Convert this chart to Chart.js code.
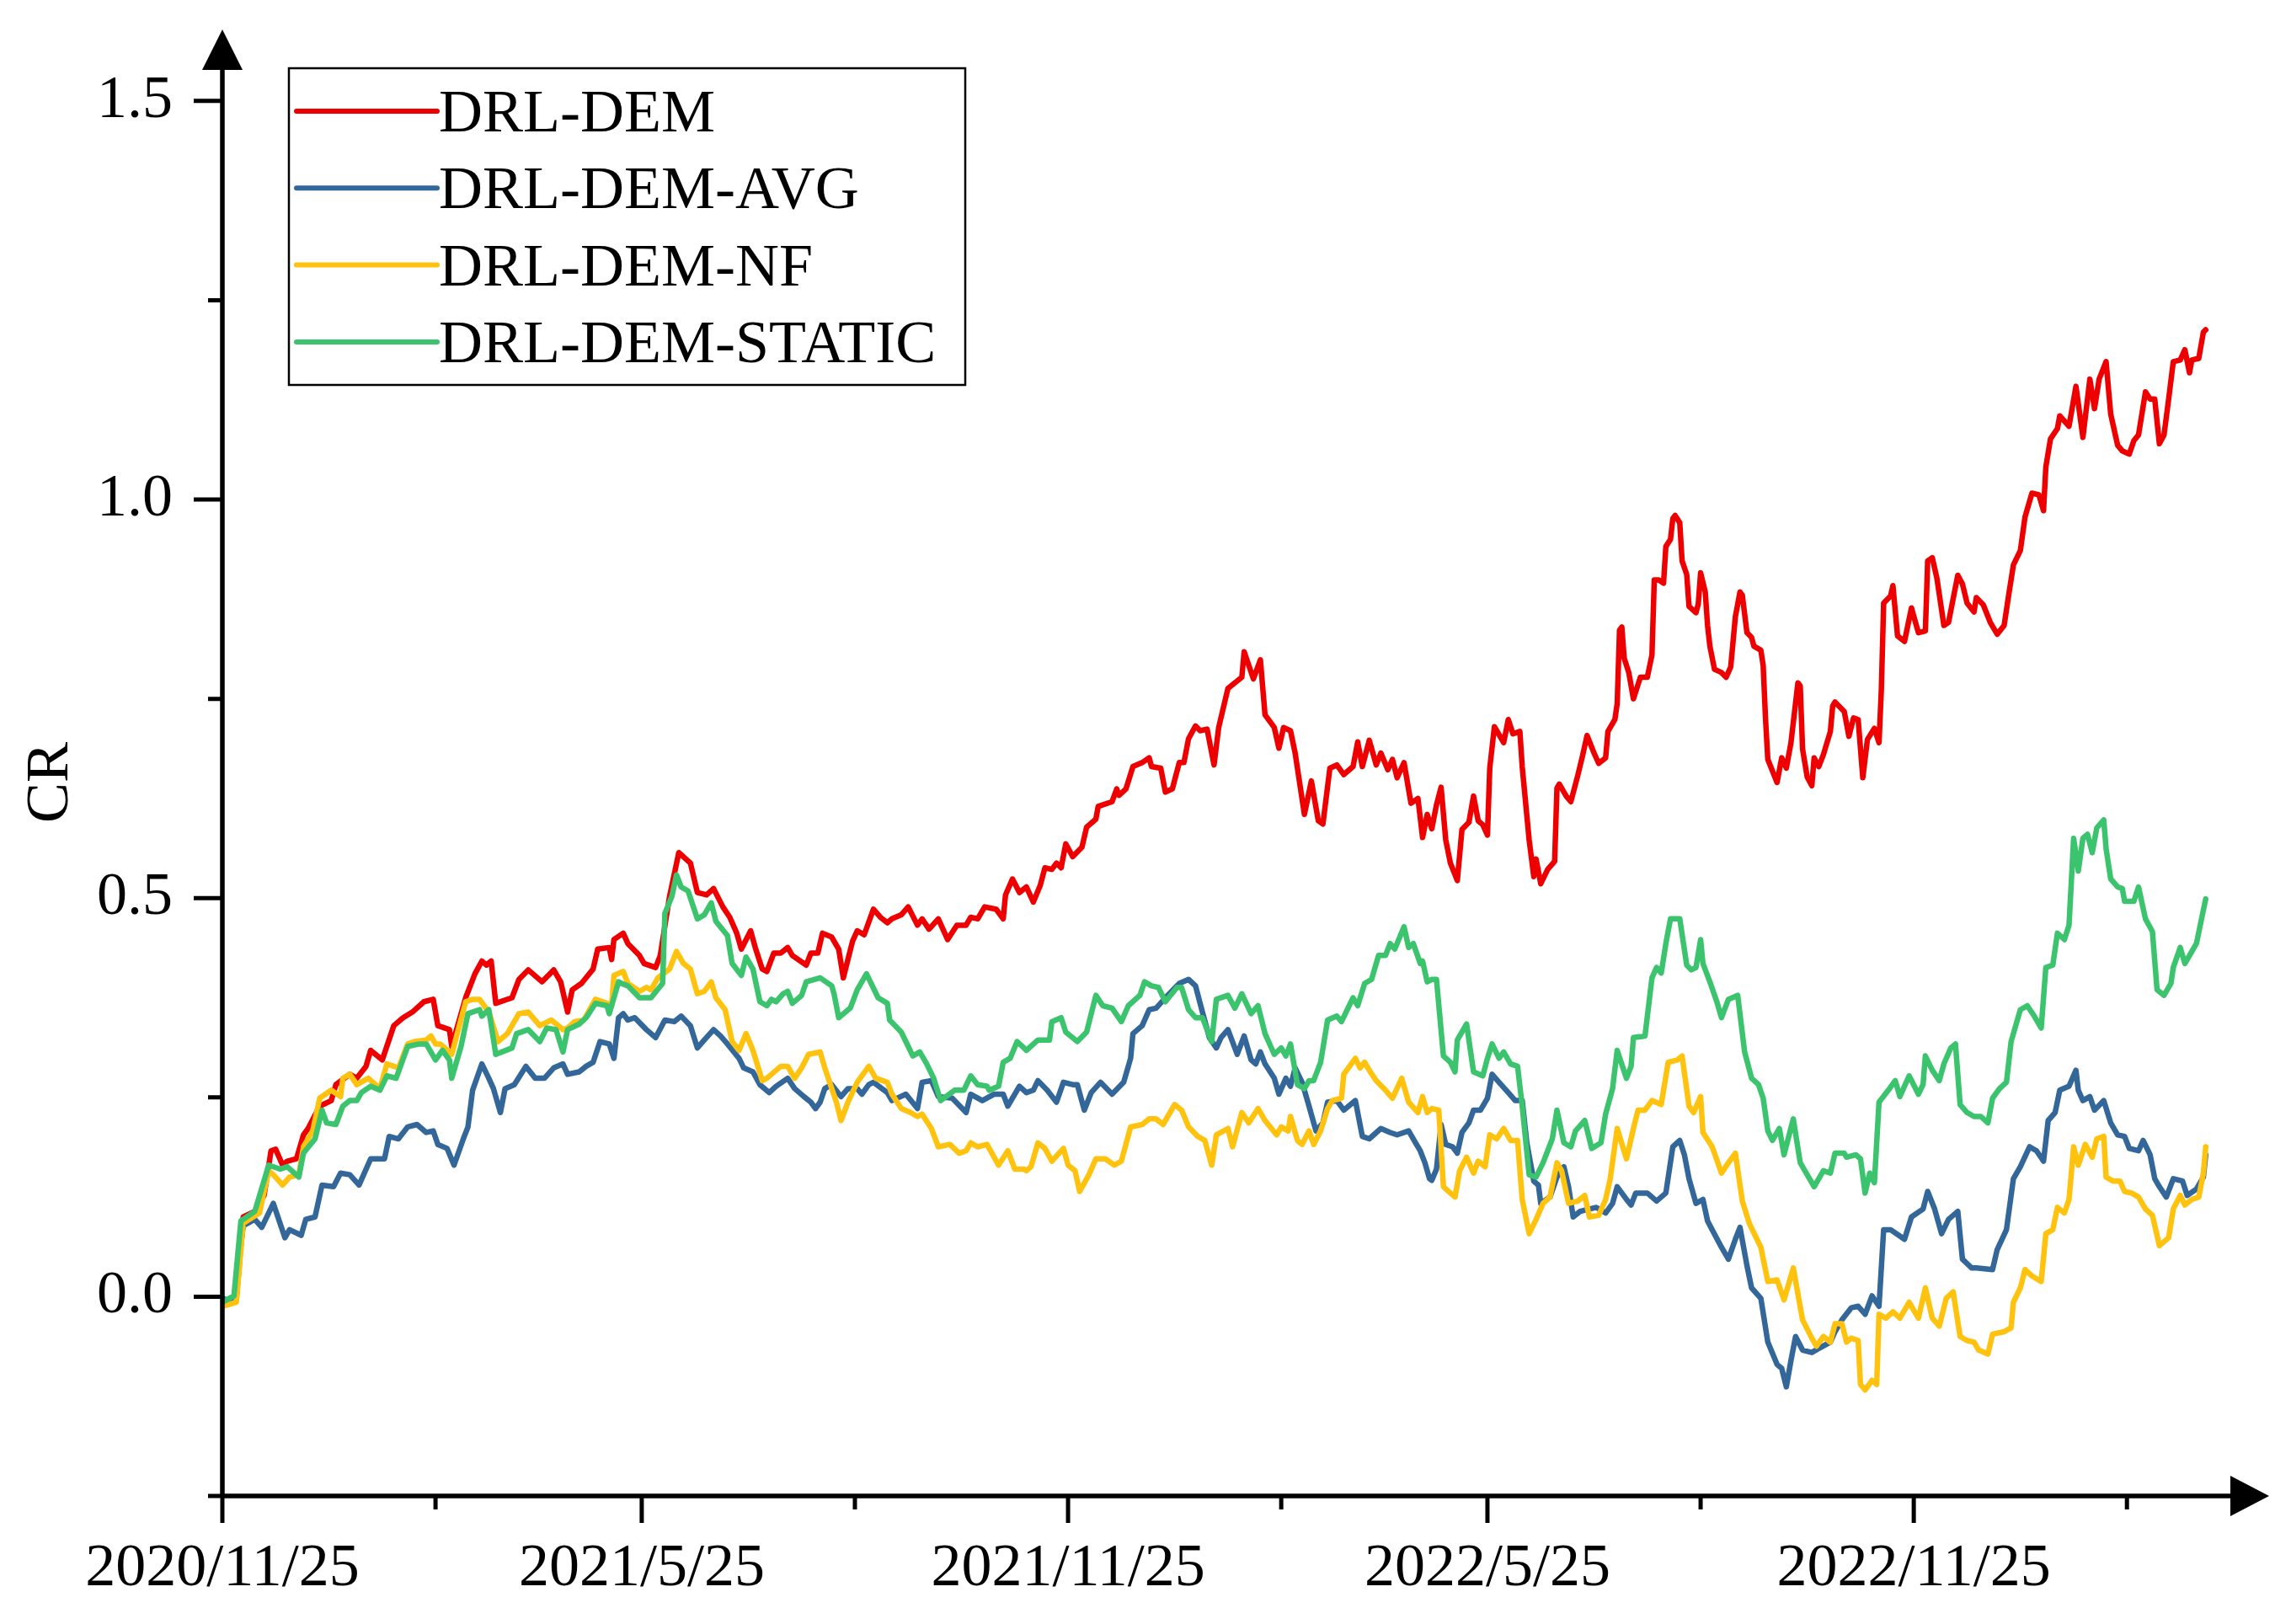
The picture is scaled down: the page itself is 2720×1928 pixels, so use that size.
<!DOCTYPE html>
<html>
<head>
<meta charset="utf-8">
<script src="https://cdn.jsdelivr.net/npm/chart.js@4.4.1/dist/chart.umd.min.js"></script>
<style>
  html, body { margin: 0; padding: 0; background: #fff; overflow: hidden; }
  canvas { display: block; }
</style>
</head>
<body>
<canvas id="chart" width="2720" height="1928"></canvas>
<script>
// x = calendar days since 2020/11/25, y = cumulative return (CR)
const xTickDays = [0, 92, 181, 273, 365, 457, 546, 638, 730, 822];
const xTickLabels = ['2020/11/25', '', '2021/5/25', '', '2021/11/25', '', '2022/5/25', '', '2022/11/25', ''];
const yTickValues = [-0.25, 0, 0.25, 0.5, 0.75, 1.0, 1.25, 1.5];
const yTickLabels = ['', '0.0', '', '0.5', '', '1.0', '', '1.5'];

const seriesNames = ['DRL-DEM', 'DRL-DEM-AVG', 'DRL-DEM-NF', 'DRL-DEM-STATIC'];
const seriesColors = ['#EE0000', '#336699', '#FFC20E', '#3CC36E'];

const redDays = [0,6,9,14,18,21,23,26,28,32,35,37,42,47,49,55,58,62,64,69,74,78,82,87,91,93,98,99,105,109,112,114,116,118,125,128,132,138,143,146,149,151,155,160,162,167,168,169,173,
  175,180,182,187,189,193,197,202,205,209,212,216,219,222,224,228,230,233,235,238,241,244,246,252,254,257,259,263,266,268,272,274,277,281,284,287,289,293,296,300,302,305,309,313,317,321,323,326,329,334,337,338,341,344,347,
  350,353,355,358,360,362,364,367,371,373,377,378,384,386,387,390,393,397,400,401,405,407,410,413,415,417,420,422,425,428,430,434,440,441,445,448,450,454,456,458,461,463,467,470,473,475,478,481,484,488,490,492,495,498,500,503,505,507,510,513,516,518,520,522,
  524,526,528,530,533,535,538,540,542,544,546,547,549,553,555,557,560,561,564,566,567,569,572,575,576,577,580,582,585,587,589,592,594,597,598,601,602,603,604,605,607,609,612,615,617,618,620,622,623,625,626,627,629,630,632,633,636,637,638,640,641,642,644,647,649,651,653,655,656,658,660,661,664,665,666,667,671,673,675,677,680,681,682,684,686,687,689,691,694,695,696,
  700,702,704,706,708,710,713,715,716,717,720,721,723,726,729,732,735,736,738,740,743,745,749,751,753,756,757,760,763,766,769,771,773,776,778,781,784,786,787,789,792,793,797,800,803,806,808,810,813,815,818,820,823,825,827,830,832,834,836,838,840,842,845,847,849,850,853,855,856];
const redCR = [-0.004,-0.004,0.100,0.107,0.127,0.183,0.185,0.165,0.170,0.173,0.203,0.211,0.239,0.246,0.266,0.279,0.274,0.289,0.309,0.297,0.340,0.350,0.357,0.370,0.373,0.340,0.335,0.314,0.375,0.405,0.421,0.416,0.421,0.368,0.375,0.398,0.410,0.395,0.410,0.395,0.357,0.385,0.393,0.411,0.436,0.438,0.423,0.448,0.456,
  0.443,0.428,0.418,0.413,0.428,0.502,0.557,0.544,0.507,0.504,0.512,0.489,0.476,0.456,0.436,0.459,0.438,0.411,0.408,0.431,0.431,0.438,0.428,0.416,0.431,0.431,0.456,0.451,0.436,0.400,0.446,0.459,0.454,0.486,0.476,0.469,0.474,0.479,0.489,0.466,0.474,0.461,0.474,0.448,0.466,0.466,0.476,0.474,0.489,0.486,0.474,0.504,0.524,0.507,0.514,
  0.495,0.516,0.538,0.536,0.544,0.538,0.568,0.552,0.564,0.589,0.599,0.615,0.621,0.637,0.629,0.637,0.665,0.670,0.676,0.665,0.663,0.633,0.637,0.670,0.670,0.700,0.716,0.710,0.712,0.667,0.714,0.763,0.777,0.809,0.775,0.799,0.730,0.714,0.688,0.714,0.710,0.682,0.605,0.647,0.597,0.593,0.663,0.667,0.655,0.665,0.696,0.665,0.698,0.667,0.682,0.661,0.674,0.651,0.670,0.619,0.625,0.576,0.605,0.587,
  0.617,0.639,0.573,0.544,0.522,0.586,0.595,0.628,0.597,0.592,0.579,0.663,0.715,0.695,0.724,0.706,0.709,0.665,0.573,0.527,0.549,0.518,0.536,0.546,0.638,0.643,0.628,0.621,0.654,0.678,0.704,0.682,0.669,0.676,0.709,0.724,0.744,0.836,0.840,0.801,0.783,0.750,0.777,0.777,0.805,0.899,0.899,0.895,0.941,0.950,0.976,0.980,0.971,0.923,0.906,0.866,0.858,0.869,0.908,0.884,0.842,0.816,0.787,0.783,0.777,0.790,0.853,0.884,0.880,0.833,0.827,0.816,0.811,0.792,0.726,0.674,0.645,0.676,0.663,0.695,0.770,0.766,0.687,0.652,0.641,0.676,0.665,0.680,0.709,0.741,0.746,
  0.734,0.703,0.726,0.724,0.651,0.699,0.713,0.695,0.761,0.870,0.879,0.892,0.829,0.822,0.864,0.833,0.835,0.923,0.927,0.901,0.842,0.846,0.905,0.894,0.870,0.859,0.877,0.868,0.846,0.831,0.842,0.881,0.918,0.936,0.978,1.008,1.006,0.986,1.041,1.076,1.089,1.105,1.092,1.142,1.078,1.151,1.114,1.151,1.173,1.107,1.068,1.061,1.057,1.074,1.081,1.135,1.126,1.126,1.070,1.081,1.126,1.173,1.175,1.188,1.159,1.175,1.177,1.210,1.213];

const blueDays = [0,5,9,14,17,22,27,29,34,36,40,43,48,51,55,59,64,70,72,76,80,84,88,91,93,97,100,104,106,108,112,115,117,120,122,126,131,135,139,143,147,149,154,157,160,163,167,169,171,173,
  175,178,183,187,191,195,198,202,205,208,212,215,218,223,225,229,232,236,239,244,247,251,254,256,258,260,263,267,270,274,276,279,281,287,289,295,300,302,306,309,315,321,323,328,333,337,339,344,347,
  350,352,356,360,363,367,369,372,375,379,384,389,392,393,397,400,403,408,413,417,420,423,426,429,431,434,438,441,444,446,448,450,454,456,459,461,463,466,469,472,475,477,481,484,489,492,495,500,504,507,512,515,517,519,521,522,
  524,526,528,531,533,535,538,540,543,546,548,551,555,558,561,563,566,568,569,573,576,579,581,583,586,590,593,597,600,602,606,608,610,615,619,623,626,629,631,633,636,639,641,643,647,650,653,655,658,660,664,667,671,673,675,677,679,682,686,689,694,696,
  699,703,706,709,712,715,717,720,726,729,734,736,739,742,745,749,751,755,757,764,766,770,773,776,780,783,786,788,791,793,797,800,801,803,806,808,812,815,818,821,823,827,829,832,834,836,839,842,846,848,852,855,856];
const blueCR = [-0.002,-0.007,0.089,0.097,0.087,0.117,0.074,0.084,0.077,0.097,0.100,0.140,0.138,0.155,0.153,0.140,0.173,0.173,0.201,0.198,0.213,0.216,0.206,0.208,0.191,0.186,0.165,0.198,0.213,0.259,0.292,0.274,0.261,0.231,0.261,0.266,0.289,0.274,0.274,0.287,0.292,0.279,0.282,0.289,0.294,0.320,0.317,0.299,0.350,0.355,
  0.347,0.350,0.335,0.325,0.347,0.345,0.352,0.340,0.312,0.322,0.335,0.327,0.317,0.299,0.287,0.282,0.266,0.256,0.264,0.274,0.261,0.251,0.244,0.236,0.244,0.261,0.266,0.251,0.261,0.261,0.254,0.266,0.269,0.256,0.246,0.254,0.236,0.269,0.271,0.251,0.249,0.231,0.254,0.246,0.254,0.254,0.239,0.264,0.256,
  0.259,0.271,0.259,0.244,0.269,0.266,0.266,0.234,0.256,0.269,0.254,0.269,0.299,0.330,0.340,0.360,0.362,0.378,0.393,0.398,0.390,0.357,0.325,0.312,0.325,0.335,0.304,0.327,0.297,0.292,0.307,0.292,0.274,0.254,0.274,0.264,0.287,0.269,0.239,0.208,0.218,0.244,0.246,0.234,0.246,0.201,0.198,0.211,0.206,0.203,0.208,0.193,0.183,0.168,0.148,0.146,
  0.160,0.216,0.191,0.188,0.180,0.206,0.218,0.234,0.234,0.249,0.279,0.269,0.256,0.246,0.246,0.193,0.145,0.140,0.117,0.125,0.150,0.163,0.138,0.100,0.107,0.110,0.112,0.105,0.117,0.138,0.122,0.115,0.130,0.130,0.120,0.130,0.188,0.196,0.178,0.148,0.117,0.122,0.095,0.084,0.062,0.047,0.072,0.087,0.039,0.011,-0.002,-0.057,-0.085,-0.090,-0.113,-0.080,-0.050,-0.067,-0.070,-0.065,-0.057,-0.044,
  -0.029,-0.014,-0.012,-0.022,0.001,-0.012,0.084,0.084,0.072,0.100,0.110,0.132,0.110,0.079,0.097,0.107,0.047,0.036,0.036,0.034,0.059,0.084,0.148,0.163,0.188,0.183,0.170,0.221,0.231,0.259,0.264,0.284,0.259,0.246,0.251,0.234,0.246,0.218,0.203,0.201,0.186,0.183,0.196,0.178,0.148,0.138,0.125,0.148,0.145,0.127,0.135,0.150,0.178];

const yellowDays = [0,6,9,16,20,22,26,29,33,35,39,42,47,51,52,55,58,63,68,71,76,80,83,88,90,92,94,98,99,105,108,111,115,119,123,128,132,137,142,147,149,152,156,161,166,168,169,173,
  175,180,183,185,188,193,196,199,202,205,208,211,213,217,220,223,226,229,233,235,239,241,244,247,250,253,258,260,265,267,270,274,279,282,287,289,293,297,300,302,306,309,314,318,321,323,326,330,335,339,342,346,347,
  349,352,355,358,363,365,368,370,374,377,381,385,388,392,397,400,403,406,411,414,417,421,424,427,429,434,436,440,443,447,450,455,457,460,461,464,466,469,471,474,477,479,483,484,489,491,493,495,498,502,505,509,512,516,518,520,522,
  525,527,530,532,534,537,540,542,545,547,550,553,556,559,561,564,567,570,573,576,578,581,585,588,590,594,597,599,602,606,609,611,614,617,621,624,628,630,633,635,638,639,643,647,650,653,656,659,664,667,671,674,678,682,686,688,691,694,696,
  699,701,703,706,707,709,712,714,715,718,721,724,728,732,735,738,741,744,747,750,753,756,758,762,764,769,772,773,776,778,781,785,787,790,792,795,797,799,801,804,807,809,812,813,816,819,821,824,827,830,833,836,840,842,845,847,850,853,855,856];
const yellowCR = [-0.012,-0.007,0.092,0.105,0.158,0.153,0.140,0.150,0.153,0.188,0.208,0.249,0.259,0.251,0.274,0.279,0.266,0.274,0.261,0.292,0.287,0.317,0.320,0.322,0.327,0.317,0.317,0.307,0.304,0.370,0.373,0.373,0.357,0.320,0.330,0.355,0.357,0.340,0.347,0.335,0.337,0.345,0.347,0.373,0.368,0.365,0.403,0.408,
  0.393,0.383,0.388,0.385,0.400,0.411,0.433,0.418,0.411,0.380,0.383,0.395,0.375,0.360,0.320,0.309,0.330,0.309,0.271,0.274,0.284,0.289,0.289,0.274,0.287,0.304,0.307,0.287,0.244,0.221,0.244,0.269,0.289,0.274,0.269,0.254,0.236,0.231,0.226,0.229,0.211,0.188,0.191,0.180,0.183,0.193,0.188,0.191,0.165,0.183,0.160,0.160,0.158,
  0.163,0.193,0.186,0.170,0.186,0.165,0.158,0.132,0.153,0.173,0.173,0.165,0.170,0.213,0.216,0.223,0.223,0.216,0.241,0.234,0.213,0.201,0.196,0.165,0.203,0.211,0.188,0.231,0.218,0.236,0.221,0.203,0.213,0.208,0.226,0.196,0.191,0.208,0.191,0.208,0.236,0.246,0.249,0.279,0.299,0.287,0.294,0.284,0.271,0.259,0.249,0.274,0.244,0.231,0.251,0.231,0.236,
  0.234,0.138,0.130,0.125,0.158,0.175,0.155,0.170,0.163,0.203,0.198,0.211,0.196,0.196,0.122,0.079,0.097,0.117,0.125,0.168,0.158,0.117,0.120,0.127,0.100,0.102,0.122,0.148,0.211,0.173,0.211,0.234,0.234,0.246,0.241,0.294,0.297,0.302,0.239,0.231,0.251,0.206,0.188,0.155,0.168,0.180,0.120,0.092,0.062,0.019,0.021,-0.004,0.036,-0.029,-0.052,-0.062,-0.050,-0.057,-0.034,
  -0.034,-0.057,-0.052,-0.055,-0.110,-0.117,-0.105,-0.110,-0.022,-0.027,-0.019,-0.027,-0.007,-0.027,0.011,-0.027,-0.037,-0.002,0.006,-0.050,-0.055,-0.057,-0.067,-0.072,-0.047,-0.044,-0.039,-0.007,0.011,0.034,0.026,0.019,0.079,0.084,0.112,0.105,0.122,0.188,0.165,0.191,0.175,0.198,0.201,0.150,0.145,0.145,0.132,0.130,0.125,0.110,0.102,0.064,0.074,0.110,0.127,0.115,0.122,0.125,0.155,0.188];

const greenDays = [0,5,8,14,20,25,28,33,35,40,43,45,49,52,55,58,60,64,68,71,75,80,85,88,92,95,98,99,103,106,111,112,115,118,125,127,132,137,140,144,147,149,154,157,161,166,167,171,173,
  175,180,185,190,191,194,196,198,201,205,208,211,213,218,220,224,226,229,232,235,237,239,242,244,246,250,252,258,263,264,266,271,274,278,283,287,288,293,296,298,301,304,307,310,316,320,323,326,330,331,335,337,340,343,346,347,
  352,357,358,362,364,369,373,377,380,384,388,391,396,398,401,404,407,412,414,417,420,423,427,429,434,437,440,444,447,450,454,457,459,461,464,467,469,471,474,477,481,483,488,490,493,496,499,502,504,506,510,512,514,517,518,520,522,
  524,527,530,532,533,537,540,544,546,548,551,553,556,559,561,564,567,570,574,576,579,582,584,588,591,595,597,600,602,606,608,609,614,617,619,621,623,625,629,632,634,636,638,639,642,645,647,650,654,657,660,663,665,667,669,672,674,678,681,683,687,691,694,696,
  700,701,705,707,709,711,713,715,719,722,724,728,732,734,735,738,741,743,746,748,750,753,756,759,762,764,767,770,772,776,779,782,785,787,790,792,795,797,799,801,803,805,807,809,812,813,815,818,820,821,825,827,830,833,835,838,841,842,845,847,849,852,854,856];
const greenCR = [-0.007,0.001,0.095,0.107,0.165,0.160,0.163,0.150,0.180,0.198,0.234,0.218,0.216,0.239,0.246,0.246,0.256,0.264,0.259,0.277,0.274,0.314,0.317,0.317,0.297,0.309,0.297,0.274,0.314,0.355,0.360,0.352,0.360,0.304,0.312,0.330,0.335,0.320,0.337,0.335,0.307,0.335,0.342,0.350,0.368,0.365,0.355,0.395,0.392,
  0.390,0.375,0.375,0.393,0.481,0.502,0.529,0.514,0.509,0.474,0.479,0.494,0.471,0.453,0.418,0.403,0.426,0.411,0.370,0.365,0.373,0.370,0.380,0.383,0.368,0.378,0.395,0.400,0.390,0.380,0.350,0.362,0.385,0.405,0.375,0.368,0.347,0.332,0.314,0.302,0.307,0.292,0.274,0.246,0.259,0.259,0.277,0.266,0.264,0.259,0.264,0.294,0.299,0.320,0.312,0.309,
  0.322,0.322,0.345,0.350,0.332,0.320,0.332,0.378,0.365,0.362,0.345,0.365,0.378,0.395,0.390,0.388,0.370,0.388,0.388,0.360,0.350,0.350,0.320,0.373,0.378,0.362,0.380,0.355,0.365,0.330,0.304,0.312,0.302,0.317,0.266,0.261,0.271,0.271,0.294,0.347,0.352,0.345,0.375,0.365,0.393,0.398,0.428,0.428,0.443,0.436,0.464,0.438,0.443,0.418,0.421,0.395,0.398,
  0.398,0.302,0.294,0.282,0.322,0.342,0.282,0.277,0.299,0.317,0.299,0.307,0.292,0.289,0.239,0.153,0.150,0.168,0.198,0.234,0.193,0.188,0.208,0.221,0.186,0.193,0.229,0.261,0.309,0.274,0.289,0.325,0.327,0.400,0.413,0.406,0.443,0.474,0.474,0.416,0.410,0.413,0.448,0.418,0.395,0.370,0.350,0.373,0.378,0.307,0.274,0.266,0.249,0.208,0.196,0.211,0.178,0.223,0.168,0.158,0.138,0.158,0.155,0.180,
  0.180,0.175,0.178,0.173,0.130,0.155,0.143,0.244,0.259,0.271,0.251,0.277,0.254,0.266,0.302,0.284,0.271,0.292,0.312,0.317,0.241,0.231,0.226,0.226,0.218,0.249,0.261,0.269,0.320,0.360,0.365,0.352,0.337,0.413,0.416,0.456,0.448,0.466,0.575,0.534,0.575,0.580,0.557,0.588,0.598,0.562,0.524,0.514,0.512,0.496,0.496,0.514,0.474,0.458,0.385,0.378,0.393,0.413,0.438,0.418,0.428,0.443,0.471,0.499];

const FONT = "'Liberation Serif', 'Times New Roman', serif";
const toPoints = (days, cr) => days.map((d, i) => ({ x: d, y: cr[i] }));

const whiteBg = {
  id: 'whiteBg',
  beforeDraw(c) { const ctx = c.ctx; ctx.save(); ctx.fillStyle = '#fff'; ctx.fillRect(0, 0, c.width, c.height); ctx.restore(); }
};

// axis lines with arrow heads, long major / short minor ticks
const axesWithArrows = {
  id: 'axesWithArrows',
  afterDatasetsDraw(chart) {
    const { ctx, chartArea: a, scales: { x, y } } = chart;
    ctx.save();
    ctx.strokeStyle = '#000'; ctx.fillStyle = '#000';
    ctx.lineWidth = 5.5;
    ctx.beginPath();
    ctx.moveTo(a.left, a.bottom); ctx.lineTo(a.left, a.top);
    ctx.moveTo(a.left, a.bottom); ctx.lineTo(a.right, a.bottom);
    ctx.stroke();
    ctx.lineWidth = 5;
    ctx.beginPath();
    x.ticks.forEach((t, i) => {
      const px = x.getPixelForValue(t.value);
      ctx.moveTo(px, a.bottom); ctx.lineTo(px, a.bottom + (xTickLabels[i] ? 32 : 16));
    });
    y.ticks.forEach((t, i) => {
      const py = y.getPixelForValue(t.value);
      ctx.moveTo(a.left, py); ctx.lineTo(a.left - (yTickLabels[i] ? 34 : 17), py);
    });
    ctx.stroke();
    ctx.beginPath();
    ctx.moveTo(a.left, a.top - 47); ctx.lineTo(a.left - 24, a.top + 1); ctx.lineTo(a.left + 24, a.top + 1); ctx.closePath();
    ctx.moveTo(a.right + 45, a.bottom); ctx.lineTo(a.right - 1, a.bottom - 24); ctx.lineTo(a.right - 1, a.bottom + 24); ctx.closePath();
    ctx.fill();
    ctx.restore();
  }
};

const boxLegend = {
  id: 'boxLegend',
  afterDraw(chart) {
    const ctx = chart.ctx;
    ctx.save();
    ctx.strokeStyle = '#000'; ctx.lineWidth = 2.5;
    ctx.strokeRect(343, 81, 803, 376);
    ctx.font = `72px ${FONT}`; ctx.fillStyle = '#000'; ctx.textBaseline = 'alphabetic';
    ctx.lineCap = 'round';
    chart.data.datasets.forEach((ds, i) => {
      const base = 156 + i * 91.3;
      ctx.strokeStyle = ds.borderColor; ctx.lineWidth = 6;
      ctx.beginPath(); ctx.moveTo(352, base - 24); ctx.lineTo(519, base - 24); ctx.stroke();
      ctx.fillText(ds.label, 521, base);
    });
    ctx.restore();
  }
};

const allDays = [redDays, blueDays, yellowDays, greenDays];
const allCR = [redCR, blueCR, yellowCR, greenCR];
const drawOrder = [4, 3, 2, 1];

new Chart(document.getElementById('chart'), {
  type: 'line',
  data: {
    datasets: seriesNames.map((name, i) => ({
      label: name,
      data: toPoints(allDays[i], allCR[i]),
      borderColor: seriesColors[i],
      borderWidth: 6.5,
      borderJoinStyle: 'round',
      borderCapStyle: 'round',
      tension: 0,
      pointRadius: 0,
      fill: false,
      order: drawOrder[i],
    })),
  },
  options: {
    responsive: false,
    devicePixelRatio: 1,
    animation: false,
    layout: { padding: { left: 0, top: 82, right: 71, bottom: 0 } },
    plugins: { legend: { display: false }, tooltip: { enabled: false } },
    scales: {
      x: {
        type: 'linear', min: 0, max: 867,
        grid: { display: false, drawTicks: false }, border: { display: false },
        afterBuildTicks: s => { s.ticks = xTickDays.map(v => ({ value: v })); },
        afterFit: s => { s.height = 152; s.paddingLeft = 0; s.paddingRight = 0; },
        ticks: {
          autoSkip: false, maxRotation: 0, minRotation: 0, padding: 44, color: '#000',
          font: { family: FONT, size: 72 },
          callback: (v, i) => xTickLabels[i],
        },
      },
      y: {
        type: 'linear', min: -0.25, max: 1.54,
        grid: { display: false, drawTicks: false }, border: { display: false },
        afterBuildTicks: s => { s.ticks = yTickValues.map(v => ({ value: v })); },
        afterFit: s => { s.width = 264; s.paddingTop = 0; s.paddingBottom = 0; },
        ticks: {
          autoSkip: false, padding: 59, color: '#000',
          font: { family: FONT, size: 72 },
          callback: (v, i) => yTickLabels[i],
        },
        title: {
          display: true, text: 'CR', color: '#000',
          font: { family: FONT, size: 72 },
          padding: { top: 18, bottom: 0 },
        },
      },
    },
  },
  plugins: [whiteBg, axesWithArrows, boxLegend],
});
</script>
</body>
</html>
